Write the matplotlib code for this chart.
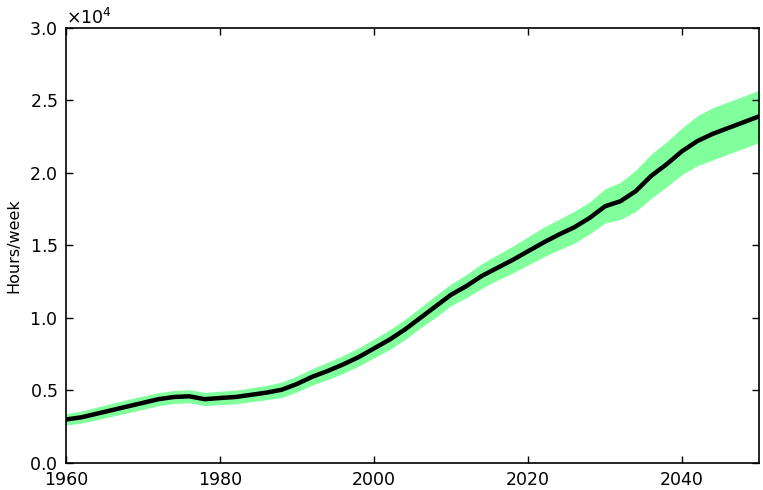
import numpy as np
import matplotlib.pyplot as plt
from matplotlib.ticker import ScalarFormatter

# Values (units of 1e4 hours/week)
years = np.arange(1960, 2051, 2)
mean = [0.300, 0.315, 0.340, 0.365, 0.390, 0.415, 0.440, 0.455, 0.460, 0.440,
        0.448, 0.455, 0.470, 0.485, 0.505, 0.545, 0.595, 0.635, 0.680, 0.730,
        0.790, 0.850, 0.920, 1.000, 1.080, 1.160, 1.220, 1.290, 1.345, 1.400,
        1.460, 1.520, 1.575, 1.625, 1.690, 1.770, 1.805, 1.875, 1.980, 2.060,
        2.150, 2.220, 2.270, 2.310, 2.350, 2.390]
upper = [0.340, 0.358, 0.385, 0.412, 0.438, 0.462, 0.485, 0.500, 0.505, 0.487,
         0.495, 0.502, 0.518, 0.535, 0.558, 0.600, 0.652, 0.695, 0.742, 0.795,
         0.855, 0.918, 0.990, 1.072, 1.155, 1.235, 1.300, 1.375, 1.435, 1.495,
         1.560, 1.625, 1.680, 1.735, 1.800, 1.890, 1.935, 2.020, 2.130, 2.215,
         2.310, 2.395, 2.450, 2.490, 2.530, 2.570]
lower = [0.262, 0.275, 0.298, 0.322, 0.346, 0.370, 0.395, 0.410, 0.415, 0.395,
         0.402, 0.408, 0.422, 0.436, 0.452, 0.490, 0.538, 0.575, 0.618, 0.668,
         0.725, 0.782, 0.850, 0.930, 1.005, 1.085, 1.140, 1.205, 1.260, 1.310,
         1.365, 1.420, 1.470, 1.515, 1.580, 1.655, 1.680, 1.735, 1.825, 1.905,
         1.990, 2.050, 2.090, 2.130, 2.170, 2.210]

mean = np.array(mean) * 1e4
upper = np.array(upper) * 1e4
lower = np.array(lower) * 1e4

fig = plt.figure(figsize=(7.63, 4.90), dpi=100)
ax = fig.add_axes([0.0865, 0.0551, 0.9083, 0.8879])

ax.fill_between(years, lower, upper, color='#80ff9c', linewidth=0)
ax.plot(years, mean, color='black', linewidth=3.2)

ax.set_xlim(1960, 2050)
ax.set_ylim(0, 30000)
ax.set_xticks([1960, 1980, 2000, 2020, 2040])
ax.set_yticks(np.arange(0, 30001, 5000))

fmt = ScalarFormatter(useMathText=True)
fmt.set_powerlimits((0, 0))
ax.yaxis.set_major_formatter(fmt)
ax.yaxis.get_offset_text().set_fontsize(12.5)

ax.tick_params(direction='in', top=True, right=True, length=5, width=1,
               labelsize=12.5, pad=6)
for s in ax.spines.values():
    s.set_linewidth(1.2)

ax.set_ylabel('Hours/week', fontsize=11.5, labelpad=6)

fig.savefig('out.png', dpi=100)
